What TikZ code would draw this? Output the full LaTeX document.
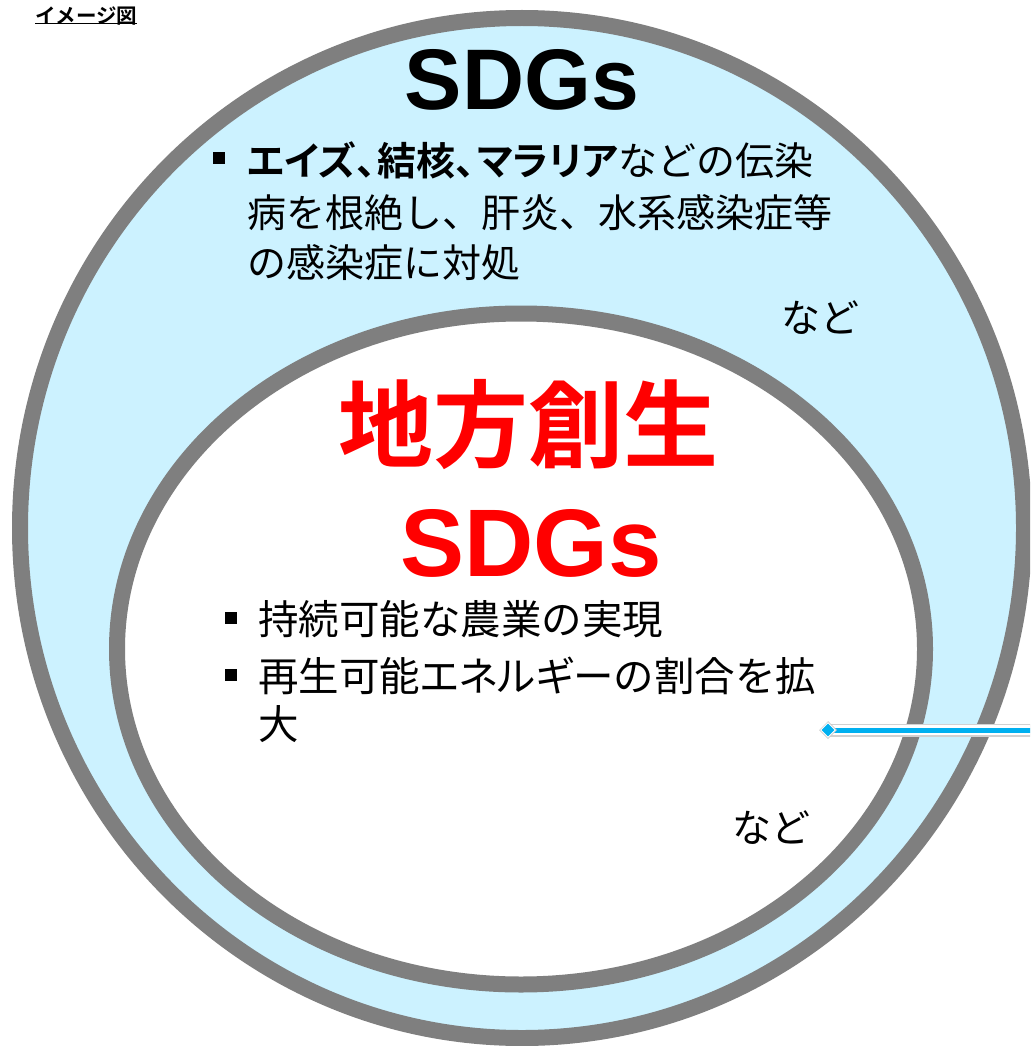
\documentclass[tikz,border=0pt]{standalone}
\usepackage{fontspec}
\setmainfont{Noto Sans CJK JP}[BoldFont={Noto Sans CJK JP Bold}]
\newfontfamily\arialfont{Liberation Sans}
\definecolor{ringgray}{HTML}{7F7F7F}
\definecolor{paleblue}{HTML}{CCF2FF}
\definecolor{linecyan}{HTML}{00B0F0}
\definecolor{sdgred}{HTML}{FF0000}
\newcommand{\halfcomma}{\makebox[0.55em][l]{、}}
\newcommand{\pk}[1]{{\addfontfeature{RawFeature=+palt}#1}}
\tikzset{
  ring/.style={line width=16pt, draw=ringgray},
  bodytext/.style={anchor=base west, inner sep=0pt, font=\fontsize{39}{47}\selectfont},
  innertext/.style={anchor=base west, inner sep=0pt, font=\fontsize{40.5}{47}\selectfont},
  bulletbox/.style={fill=black, minimum size=11.5pt, inner sep=0pt},
  bigsdg/.style={inner sep=0pt, font=\arialfont\bfseries\fontsize{86}{100}\selectfont},
}
\begin{document}
\begin{tikzpicture}[x=1pt,y=-1pt]
\useasboundingbox (0,0) rectangle (1030,1046);
\clip (0,0) rectangle (1030,1046);
% outer ring
\draw[ring, fill=paleblue] (522,528) ellipse [x radius=502pt, y radius=510pt];
% inner ring
\draw[ring, fill=white] (521,649) ellipse [x radius=404pt, y radius=335.5pt];

% title label
\node[anchor=base west, inner sep=0pt, font=\bfseries\fontsize{20.5}{24}\selectfont] (title) at (35,24) {イメージ図};
\draw[line width=1.3pt] (title.south west) ++(0,-2.5) coordinate (ulA) -- (title.south east |- ulA) coordinate (ulB);

% outer texts
\node[bigsdg, text=black] (sdgs) at (522,80) {SDGs};
\node[bulletbox] (b1) at (219,158) {};
\node[bodytext] (t1a) at (247,175) {\textbf{\pk{エイズ}\halfcomma 結核\halfcomma \pk{マラリア}}などの伝染};
\node[bodytext] (t1b) at (247,227) {病を根絶し、肝炎、水系感染症等};
\node[bodytext] (t1c) at (247,277) {の感染症に対処};
\node[bodytext, anchor=center] (nado1) at (820,318) {など};

% inner texts
\node[inner sep=0pt, text=sdgred, font=\bfseries\fontsize{95}{100}\selectfont] (chiho) at (528,425) {地方創生};
\node[bigsdg, text=sdgred, font=\arialfont\bfseries\fontsize{96}{100}\selectfont] (sdgs2) at (531,543) {SDGs};
\node[bulletbox] (b2) at (231,618) {};
\node[innertext] (t2a) at (258,634) {持続可能な農業の実現};
\node[bulletbox] (b3) at (231,675) {};
\node[innertext] (t2b) at (258,691) {再生可能\pk{エネルギー}の割合を拡};
\node[innertext] (t2c) at (258,739) {大};
\node[bodytext, anchor=center] (nado2) at (771,828) {など};

% connector
\coordinate (handle) at (828,730);
\coordinate (lineend) at (1040,730);
\draw[line width=13pt, draw=black!18] (handle) -- (lineend);
\draw[line width=10.5pt, draw=white] (handle) -- (lineend);
\draw[line width=5pt, draw=linecyan] (handle) -- (lineend);
\node[draw=black!25, fill=white, minimum size=12pt, inner sep=0pt, rotate=45] (hbox) at (handle) {};
\node[fill=linecyan, minimum size=9pt, inner sep=0pt, rotate=45] (hcore) at (handle) {};
\end{tikzpicture}
\end{document}
